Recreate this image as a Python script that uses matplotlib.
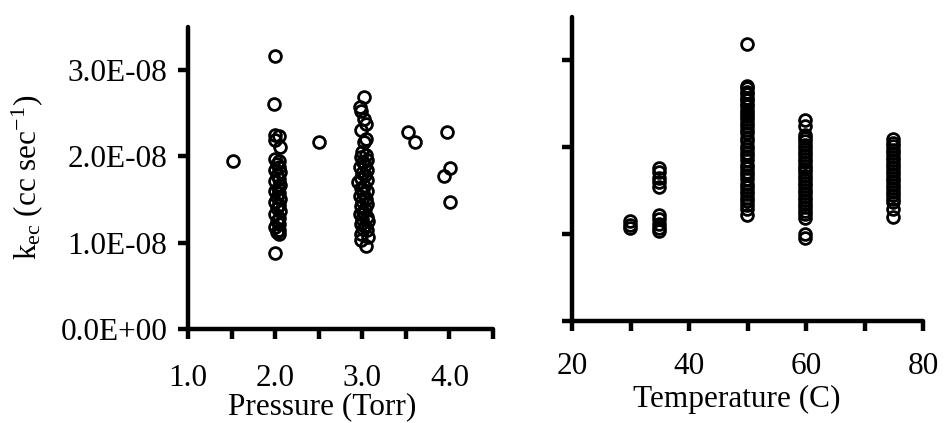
import matplotlib
matplotlib.use("Agg")
import matplotlib.pyplot as plt
from matplotlib.ticker import FixedLocator, NullFormatter

plt.rcParams["font.family"] = ["Liberation Serif", "DejaVu Serif"]
plt.rcParams["mathtext.fontset"] = "custom"
plt.rcParams["mathtext.rm"] = "Liberation Serif"
plt.rcParams["mathtext.it"] = "Liberation Serif:italic"
plt.rcParams["axes.unicode_minus"] = False

# left panel: rate constant vs pressure (units of 1e-8 cc/sec)
pressure = [1.52,
            2.00, 1.99, 2.00, 2.05, 2.00, 2.06,
            2.00, 2.04, 2.02, 2.05, 2.00, 2.06, 2.02, 2.04, 2.00, 2.06,
            2.03, 2.00, 2.05, 2.02, 2.06, 2.00, 2.04, 2.02, 2.06, 2.00,
            2.04, 2.02, 2.05, 2.00, 2.04, 2.02, 2.05, 2.00,
            2.50,
            3.02, 2.97, 2.99, 3.02, 3.04, 2.99, 3.04, 3.02,
            3.00, 3.04, 2.98, 3.06, 3.01, 3.03, 2.97, 3.05, 3.00, 3.03,
            2.98, 3.06, 2.95, 3.02, 2.99, 3.05, 3.01, 2.97, 3.04, 3.00,
            3.06, 2.98, 3.03, 3.01, 2.97, 3.05, 3.00, 3.07, 2.98, 3.03,
            3.01, 3.06, 2.99, 3.07, 2.99, 3.04,
            3.53, 3.61,
            3.97, 4.01, 3.94, 4.01]
k_pressure = [1.95,
              3.16, 2.60, 2.25, 2.23, 2.19, 2.11,
              1.97, 1.95, 1.91, 1.87, 1.84, 1.82, 1.78, 1.74, 1.71, 1.67,
              1.63, 1.60, 1.57, 1.53, 1.50, 1.47, 1.44, 1.40, 1.37, 1.33,
              1.29, 1.25, 1.21, 1.18, 1.15, 1.12, 1.10, 0.88,
              2.16,
              2.69, 2.57, 2.52, 2.43, 2.37, 2.30, 2.20, 2.16,
              2.05, 2.02, 1.99, 1.96, 1.93, 1.90, 1.87, 1.84, 1.81, 1.78,
              1.75, 1.72, 1.70, 1.66, 1.63, 1.60, 1.57, 1.54, 1.51, 1.48,
              1.45, 1.42, 1.39, 1.36, 1.33, 1.30, 1.27, 1.25, 1.22, 1.19,
              1.16, 1.15, 1.10, 1.06, 1.03, 0.96,
              2.28, 2.16,
              2.28, 1.86, 1.77, 1.47]

# right panel: rate constant vs temperature
temperature = ([29.9] * 3 + [34.9] * 10 + [49.9] * 38 + [59.8] * 29
               + [74.8] * 21)
k_temperature = [1.15, 1.11, 1.07,
                 1.76, 1.71, 1.65, 1.60, 1.54, 1.22, 1.17, 1.12, 1.07, 1.04,
                 3.19,
                 2.71, 2.68, 2.64, 2.61, 2.57, 2.54, 2.50, 2.47, 2.43, 2.40,
                 2.36, 2.32, 2.28, 2.24, 2.20, 2.16, 2.11, 2.07, 2.02, 1.98,
                 1.94, 1.90, 1.85, 1.80, 1.76, 1.72, 1.68, 1.63, 1.58, 1.54,
                 1.50, 1.46, 1.42, 1.38, 1.33, 1.29, 1.22,
                 2.31, 2.25, 2.14, 2.11, 2.07, 2.03, 1.99, 1.95, 1.91, 1.87,
                 1.83, 1.79, 1.75, 1.71, 1.67, 1.63, 1.59, 1.55, 1.51, 1.47,
                 1.43, 1.39, 1.35, 1.31, 1.27, 1.23, 1.19, 1.00, 0.95,
                 2.09, 2.05, 2.01, 1.97, 1.93, 1.89, 1.85, 1.81, 1.77, 1.73,
                 1.69, 1.65, 1.61, 1.57, 1.53, 1.49, 1.45, 1.41, 1.37, 1.29,
                 1.20]

y_ticks = [0.0, 1.0e-8, 2.0e-8, 3.0e-8]
y_tick_labels = ["0.0E+00", "1.0E-08", "2.0E-08", "3.0E-08"]
p_major = [1.0, 2.0, 3.0, 4.0]
p_minor = [1.5, 2.5, 3.5, 4.5]
p_labels = ["1.0", "2.0", "3.0", "4.0"]
t_major = [20, 40, 60, 80]
t_minor = [30, 50, 70]
t_labels = ["20", "40", "60", "80"]

FS = 22.5


def style_axes(ax, xpad):
    for side in ("top", "right"):
        ax.spines[side].set_visible(False)
    for side in ("left", "bottom"):
        ax.spines[side].set_linewidth(3.2)
        ax.spines[side].set_capstyle("round")
    ax.tick_params(which="both", direction="out", length=7, width=3.2,
                   labelsize=FS)
    ax.tick_params(axis="x", which="both", pad=xpad)
    ax.tick_params(axis="y", pad=8)


fig = plt.figure(figsize=(9.46, 4.23), dpi=100)
ax1 = fig.add_axes([0.1987, 0.2222, 0.3224, 0.7147])
ax2 = fig.add_axes([0.6047, 0.2411, 0.3710, 0.7187])

mk = dict(marker="o", linestyle="none", mfc="none", mec="black", ms=8.5,
          mew=2.0, clip_on=False)

ax1.plot(pressure, [v * 1e-8 for v in k_pressure], **mk)
ax1.set_xlim(1.0, 4.5)
ax1.set_ylim(0, 3.5e-8)
ax1.xaxis.set_major_locator(FixedLocator(p_major))
ax1.xaxis.set_minor_locator(FixedLocator(p_minor))
ax1.set_xticklabels(p_labels)
ax1.xaxis.set_minor_formatter(NullFormatter())
ax1.set_yticks(y_ticks)
ax1.set_yticklabels(y_tick_labels)
style_axes(ax1, 18)
ax1.set_xlabel("Pressure (Torr)", fontsize=FS, va="top")
ax1.xaxis.set_label_coords(0.44, -0.21)
ax1.set_ylabel(r"k$_{\rm ec}$ (cc sec$^{-1}$)", fontsize=FS)
ax1.yaxis.set_label_coords(-0.47, 0.5)

ax2.plot(temperature, [v * 1e-8 for v in k_temperature], **mk)
ax2.set_xlim(20, 80)
ax2.set_ylim(0, 3.5e-8)
ax2.xaxis.set_major_locator(FixedLocator(t_major))
ax2.xaxis.set_minor_locator(FixedLocator(t_minor))
ax2.set_xticklabels(t_labels)
ax2.xaxis.set_minor_formatter(NullFormatter())
ax2.set_yticks(y_ticks)
ax2.set_yticklabels([])
style_axes(ax2, 15)
ax2.set_xlabel("Temperature (C)", fontsize=FS, va="top")
ax2.xaxis.set_label_coords(0.47, -0.21)

fig.savefig("out.png", dpi=100)
